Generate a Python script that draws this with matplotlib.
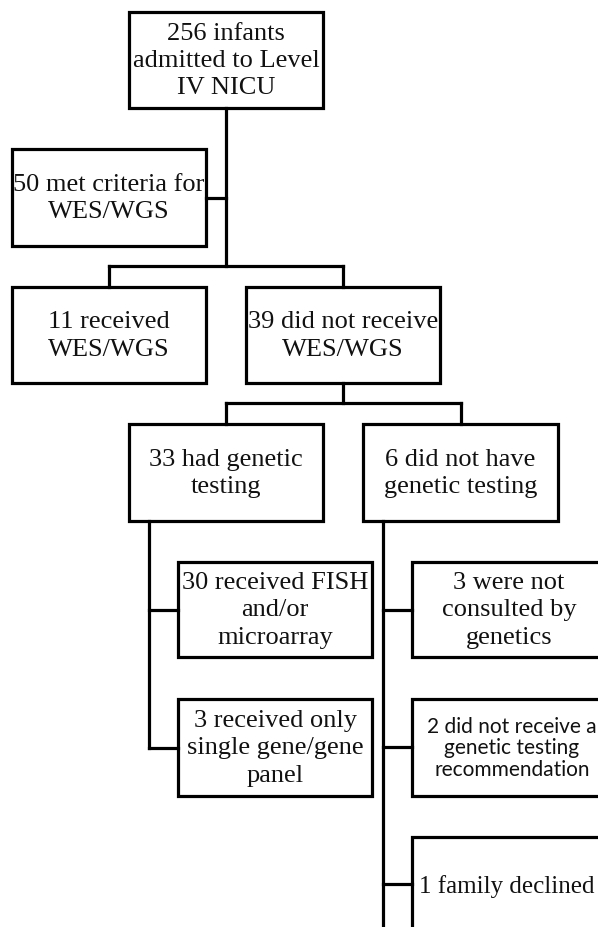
import matplotlib
matplotlib.use("Agg")
import matplotlib.pyplot as plt
from matplotlib.patches import Rectangle

# ---- data: box labels ----
labels = [
    "256 infants\nadmitted to Level\nIV NICU",
    "50 met criteria for\nWES/WGS",
    "11 received\nWES/WGS",
    "39 did not receive\nWES/WGS",
    "33 had genetic\ntesting",
    "6 did not have\ngenetic testing",
    "30 received FISH\nand/or\nmicroarray",
    "3 received only\nsingle gene/gene\npanel",
    "3 were not\nconsulted by\ngenetics",
    "2 did not receive a\ngenetic testing\nrecommendation",
    "1 family declined",
]
sans_flags = [False, False, False, False, False, False, False, False, False, True, False]

# ---- layout (pixels) ----
boxes = [  # x0, y0, x1, y1
    (129, 13, 323, 109),
    (12, 150, 206, 247),
    (12, 288, 206, 384),
    (246, 288, 440, 384),
    (129, 425, 323, 522),
    (363, 425, 558, 522),
    (178, 563, 372, 658),
    (178, 700, 372, 797),
    (412, 563, 606, 658),
    (412, 700, 606, 797),
    (412, 838, 606, 936),
]
segments = [
    ((226, 109), (226, 267)),
    ((206, 199), (226, 199)),
    ((109, 267), (343, 267)),
    ((109, 267), (109, 288)),
    ((343, 267), (343, 288)),
    ((343, 384), (343, 404)),
    ((226, 404), (461, 404)),
    ((226, 404), (226, 425)),
    ((461, 404), (461, 425)),
    ((149, 522), (149, 749)),
    ((149, 611), (178, 611)),
    ((149, 749), (178, 749)),
    ((383, 522), (383, 930)),
    ((383, 611), (412, 611)),
    ((383, 748), (412, 748)),
    ((383, 885), (412, 885)),
]

fig = plt.figure(figsize=(5.98, 9.28), dpi=100)
ax = fig.add_axes([0, 0, 1, 1])
ax.set_xlim(0, 598)
ax.set_ylim(928, 0)
ax.axis("off")

LW = 2.3
for (p, q) in segments:
    ax.plot([p[0], q[0]], [p[1], q[1]], color="black", lw=LW,
            solid_capstyle="projecting")

for (x0, y0, x1, y1), lab, sans in zip(boxes, labels, sans_flags):
    ax.add_patch(Rectangle((x0, y0), x1 - x0, y1 - y0, facecolor="white",
                           edgecolor="black", lw=LW, joinstyle="miter"))
    cx, cy = (x0 + x1) / 2, (y0 + y1) / 2
    fs = 19
    if lab.startswith("1 family"):
        cy = 887
        cx = x0 + 95
        fs = 18
    if sans:
        ax.text(cx + 3, cy, lab, ha="center", va="center", fontsize=15,
                family=["Lato", "DejaVu Sans"], color="#111111",
                linespacing=1.12, multialignment="center")
    else:
        ax.text(cx, cy, lab, ha="center", va="center", fontsize=fs,
                family=["Liberation Serif", "DejaVu Serif"], color="#111111",
                linespacing=1.3, multialignment="center")

fig.savefig("out.png", dpi=100)
